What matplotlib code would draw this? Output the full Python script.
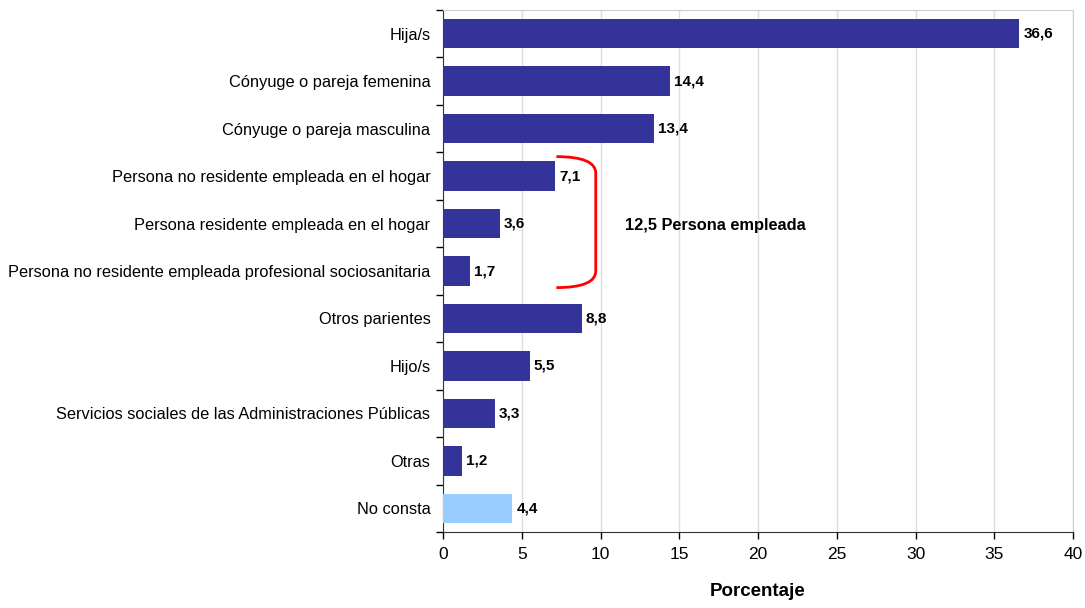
import matplotlib
matplotlib.use("Agg")
import matplotlib.pyplot as plt
from matplotlib.path import Path
from matplotlib.patches import PathPatch
from matplotlib.ticker import MultipleLocator, FixedLocator

plt.rcParams['font.family'] = ['Liberation Sans', 'DejaVu Sans']

categories = ["Hija/s", "Cónyuge o pareja femenina", "Cónyuge o pareja masculina",
              "Persona no residente empleada en el hogar",
              "Persona residente empleada en el hogar",
              "Persona no residente empleada profesional sociosanitaria",
              "Otros parientes", "Hijo/s",
              "Servicios sociales de las Administraciones Públicas",
              "Otras", "No consta"]
values = [36.6, 14.4, 13.4, 7.1, 3.6, 1.7, 8.8, 5.5, 3.3, 1.2, 4.4]
labels = ["36,6", "14,4", "13,4", "7,1", "3,6", "1,7", "8,8", "5,5", "3,3", "1,2", "4,4"]
colors = ["#333399"] * 10 + ["#99CCFF"]
group_label = "12,5 Persona empleada"
xlabel = "Porcentaje"

fig = plt.figure(figsize=(10.85, 6.08), dpi=100)
ax = fig.add_axes([443/1085, 1-532/608, 630/1085, 522/608])

y = list(range(len(categories)))
ax.barh(y, values, height=0.62, color=colors, zorder=3)
for yi, v, lab in zip(y, values, labels):
    ax.annotate(lab, (v, yi), xytext=(3, 0), textcoords="offset points",
                va="center", ha="left", fontsize=11, fontweight="bold", zorder=4)

ax.set_ylim(len(categories)-0.5, -0.5)
ax.set_xlim(0, 40)
ax.xaxis.set_major_locator(MultipleLocator(5))
ax.set_yticks(y)
ax.set_yticklabels(categories, fontsize=11.8)
ax.yaxis.set_minor_locator(FixedLocator([i - 0.5 for i in range(len(categories)+1)]))
ax.tick_params(axis='y', which='major', length=0, pad=9)
ax.tick_params(axis='y', which='minor', length=5, width=1, direction='out')
ax.tick_params(axis='x', which='major', length=5, width=1, direction='out', labelsize=12.5, pad=6)

ax.grid(axis='x', color='#dddddd', linewidth=1, zorder=0)
ax.spines['top'].set_color('#cccccc')
ax.spines['right'].set_color('#cccccc')
ax.spines['left'].set_color('#333333')
ax.spines['bottom'].set_color('#333333')

ax.set_xlabel(xlabel, fontsize=13.5, fontweight="bold", labelpad=15)

# bracket
x0, x1 = 7.2, 9.7
yt, yb = 2.59, 5.35
r = 0.35
verts = [(x0, yt), (x1, yt), (x1, yt + r), (x1, yb - r), (x1, yb), (x0, yb)]
codes = [Path.MOVETO, Path.CURVE3, Path.CURVE3, Path.LINETO, Path.CURVE3, Path.CURVE3]
ax.add_patch(PathPatch(Path(verts, codes), fill=False, edgecolor="red", linewidth=2, zorder=5))
ax.text(11.55, 4.05, group_label, va="center", ha="left", fontsize=11.8, fontweight="bold")

fig.savefig("out.png", dpi=100)
